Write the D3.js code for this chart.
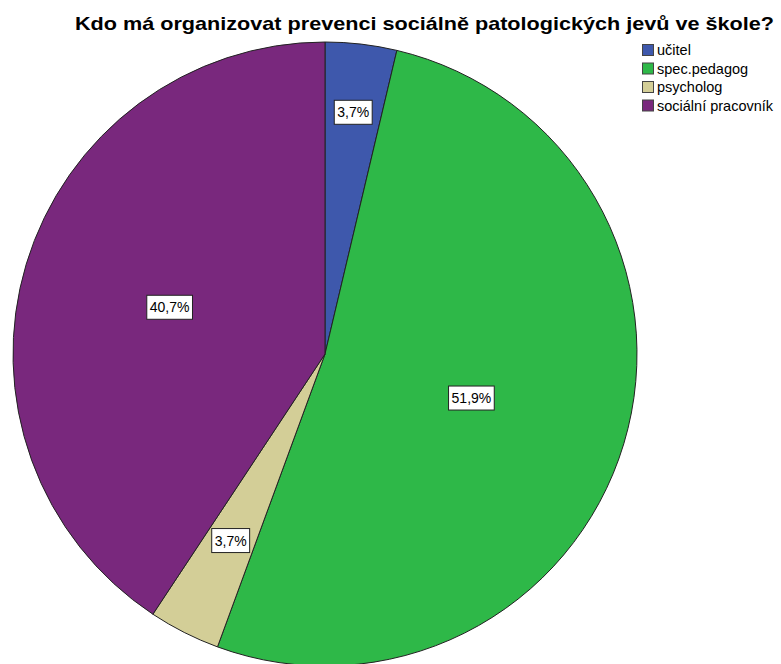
<!DOCTYPE html>
<html>
<head>
<meta charset="utf-8">
<script src="https://cdn.jsdelivr.net/npm/d3@7"></script>
<style>
  body { margin: 0; background: #fff; }
  text { font-family: "Liberation Sans", Arial, sans-serif; }
</style>
</head>
<body>
<div class="chart"></div>
<script>
// data
var categories = ["učitel", "spec.pedagog", "psycholog", "sociální pracovník"];
var values = [3.7, 51.9, 3.7, 40.7];
var labels = ["3,7%", "51,9%", "3,7%", "40,7%"];
var colors = ["#3E58AC", "#2EB848", "#D3CE97", "#79287D"];
var title = "Kdo má organizovat prevenci sociálně patologických jevů ve škole?";

function makePie(){
	var width = 781,
			height = 664;

	var svg = d3.select(".chart").append("svg")
			.attr("width", width)
			.attr("height", height);

	svg.append("text")
			.attr("x", 75)
			.attr("y", 30)
			.attr("textLength", 699)
			.attr("lengthAdjust", "spacingAndGlyphs")
			.style("font-size", "19px")
			.style("font-weight", "bold")
			.text(title);

	var radius = 312;
	var g = svg.append("g")
			.attr("transform", "translate(325,354)");

	var pie = d3.pie().sort(null).value(function(d){ return d; });
	var arcs = pie(values);
	var arc = d3.arc().innerRadius(0).outerRadius(radius);

	g.selectAll("path")
			.data(arcs)
		.enter().append("path")
			.attr("d", arc)
			.attr("fill", function(d, i){ return colors[i]; })
			.attr("stroke", "#222")
			.attr("stroke-width", 1);

	// SPSS puts labels at different depths along the mid angle
	var depth = [0.78, 0.49, 0.67, 0.52];
	var lab = g.selectAll(".lab")
			.data(arcs)
		.enter().append("g")
			.attr("class", "lab")
			.attr("transform", function(d, i){
				var a = (d.startAngle + d.endAngle) / 2;
				var r = radius * depth[i];
				return "translate(" + (Math.sin(a) * r) + "," + (-Math.cos(a) * r) + ")";
			});

	lab.append("text")
			.attr("text-anchor", "middle")
			.attr("dy", "0.36em")
			.style("font-size", "14px")
			.text(function(d, i){ return labels[i]; });

	lab.each(function(){
		var t = d3.select(this).select("text");
		var w = t.node().getComputedTextLength();
		d3.select(this).insert("rect", "text")
				.attr("x", -w / 2 - 3)
				.attr("y", -12)
				.attr("width", w + 6)
				.attr("height", 24)
				.attr("fill", "white")
				.attr("stroke", "#222")
				.attr("stroke-width", 1);
	});

	var legend = svg.append("g")
			.attr("transform", "translate(642,44)");

	var item = legend.selectAll(".item")
			.data(categories)
		.enter().append("g")
			.attr("class", "item")
			.attr("transform", function(d, i){ return "translate(0," + (i * 18.5) + ")"; });

	item.append("rect")
			.attr("x", 0.5)
			.attr("y", 0.5)
			.attr("width", 11)
			.attr("height", 11)
			.attr("fill", function(d, i){ return colors[i]; })
			.attr("stroke", "#444");

	item.append("text")
			.attr("x", 15)
			.attr("y", 11)
			.style("font-size", "14.5px")
			.text(function(d){ return d; });
}

makePie();
</script>
</body>
</html>
